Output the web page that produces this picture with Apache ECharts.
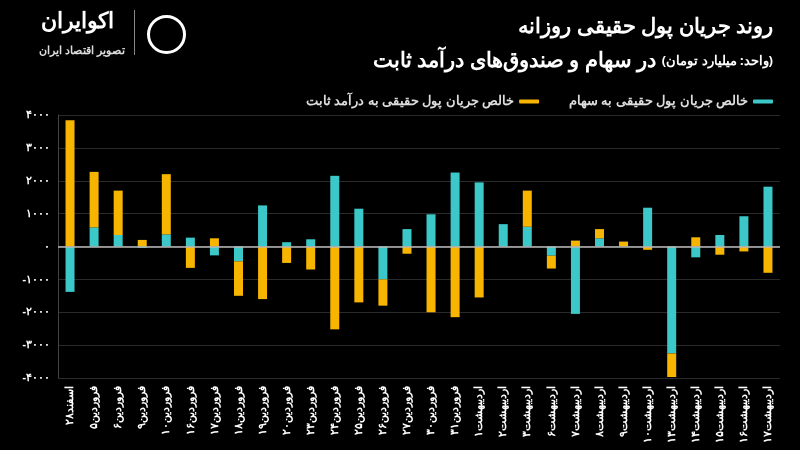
<!DOCTYPE html>
<html>
<head>
<meta charset="UTF-8">
<script src="https://cdn.jsdelivr.net/npm/echarts@6/dist/echarts.min.js"></script>
<style>html,body{margin:0;height:100%;width:100%;background:#000}#chart{width:800px;height:450px}</style>
</head>
<body>
<div id="chart"></div>
<script>
var days = ['اسفند۲۸','فروردین۵','فروردین۶','فروردین۹','فروردین۱۰','فروردین۱۶','فروردین۱۷','فروردین۱۸','فروردین۱۹','فروردین۲۰',
  'فروردین۲۳','فروردین۲۴','فروردین۲۵','فروردین۲۶','فروردین۲۷','فروردین۳۰','فروردین۳۱','اردیبهشت۱','اردیبهشت۲','اردیبهشت۳',
  'اردیبهشت۶','اردیبهشت۷','اردیبهشت۸','اردیبهشت۹','اردیبهشت۱۰','اردیبهشت۱۳','اردیبهشت۱۴','اردیبهشت۱۵','اردیبهشت۱۶','اردیبهشت۱۷'];
var stocks = [-1380,580,350,-40,370,270,-270,-450,1250,130,220,2150,1150,-1000,530,980,2250,1950,680,600,
  -280,-2050,250,0,1180,-3250,-330,350,920,1820];
var fixedIncome = [3840,1690,1350,200,1830,-650,250,-1050,-1600,-500,-700,-2520,-1700,-800,-220,-2000,-2150,-1550,0,1100,
  -390,180,280,150,-100,-720,280,-250,-150,-800];
var names = ['خالص جریان پول حقیقی به سهام','خالص جریان پول حقیقی به درآمد ثابت'];

function fa(n){ return String(n).replace(/\d/g,function(d){return '۰۱۲۳۴۵۶۷۸۹'[d];}); }

var chart = echarts.init(document.getElementById('chart'));
var font = 'Noto Sans';
chart.setOption({
  backgroundColor:'#000',
  animation:false,
  title:[
    {text:'روند جریان پول حقیقی روزانه',right:22,top:12,textStyle:{color:'#fff',fontSize:21,fontWeight:'bold',fontFamily:font}},
    {text:'در سهام و صندوق‌های درآمد ثابت {s|(واحد: میلیارد تومان)}',right:22,top:46,
      textStyle:{color:'#fff',fontSize:21,fontWeight:'bold',fontFamily:font,rich:{s:{color:'#fff',fontSize:13,fontWeight:'bold',fontFamily:font}}}},
    {text:'اکوایران',left:36,top:6,textStyle:{color:'#fff',fontSize:22,fontWeight:'bold',fontFamily:font}},
    {text:'تصویر اقتصاد ایران',left:34,top:40,textStyle:{color:'#ddd',fontSize:11,fontFamily:font}}
  ],
  graphic:[
    {type:'rect',left:134,top:10,shape:{width:1,height:45},style:{fill:'#888'}},
    {type:'circle',left:146,top:14,shape:{r:18},style:{fill:'none',stroke:'#fff',lineWidth:3}}
  ],
  legend:{
    right:22,top:90,itemGap:30,itemWidth:20,itemHeight:4,align:'right',
    textStyle:{color:'#ddd',fontSize:13,fontWeight:'bold',fontFamily:font},
    data:[names[1],names[0]]
  },
  grid:{left:58,right:20,top:115,bottom:72},
  xAxis:{
    type:'category',data:days,
    axisLine:{show:false},axisTick:{show:false},
    axisLabel:{color:'#fff',rotate:90,interval:0,fontSize:11,fontWeight:'bold',fontFamily:font}
  },
  yAxis:{
    type:'value',min:-4000,max:4000,interval:1000,
    axisLine:{show:true,lineStyle:{color:'#444'}},
    splitLine:{lineStyle:{color:'#2a2a2a'}},
    axisLabel:{color:'#fff',fontSize:11,fontWeight:'bold',fontFamily:font,formatter:function(v){return v<0?'-'+fa(-v):fa(v);}}
  },
  series:[
    {name:names[0],type:'bar',stack:'a',data:stocks,barWidth:9,itemStyle:{color:'#3cc8c8'},
      markLine:{silent:true,symbol:'none',label:{show:false},lineStyle:{color:'#bbb',type:'solid',width:1.5},data:[{yAxis:0}]}},
    {name:names[1],type:'bar',stack:'a',data:fixedIncome,barWidth:9,itemStyle:{color:'#f7b500'}}
  ]
});
</script>
</body>
</html>
